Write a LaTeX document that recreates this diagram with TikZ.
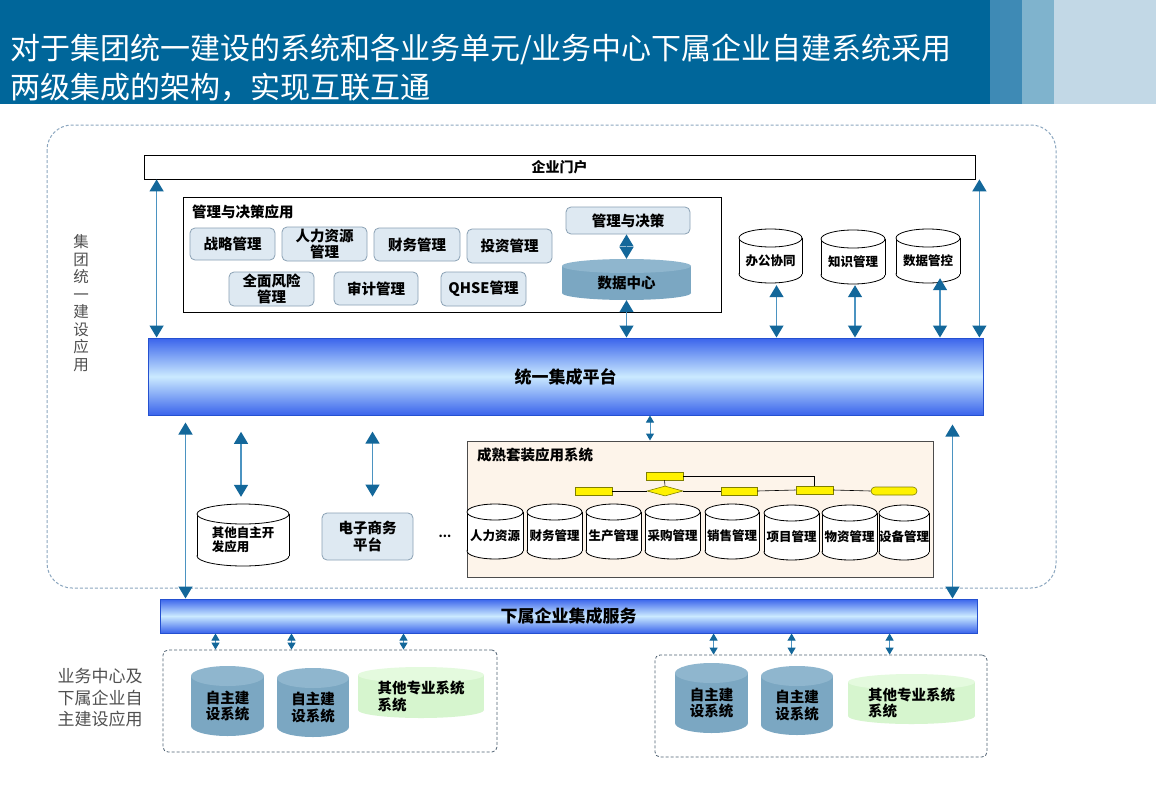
\documentclass[tikz,border=0pt]{standalone}
\usepackage{fontspec}
\setmainfont{Noto Sans CJK SC}
\usetikzlibrary{arrows.meta,shapes.geometric,calc}
\definecolor{hdr}{HTML}{00669A}
\definecolor{strip1}{HTML}{3E8AB5}
\definecolor{strip2}{HTML}{7FB3CD}
\definecolor{strip3}{HTML}{C2D8E6}
\definecolor{arrline}{HTML}{4B93C1}
\definecolor{arrhead}{HTML}{13679A}
\definecolor{boxfill}{HTML}{DEE9F2}
\definecolor{boxline}{HTML}{8AA1B4}
\definecolor{cylblue}{HTML}{7BA7C2}
\definecolor{cylbluetop}{HTML}{8FB6CE}
\definecolor{cylgreen}{HTML}{D6F5CE}
\definecolor{cylgreentop}{HTML}{E4FADE}
\definecolor{barblue}{HTML}{3A64EC}
\definecolor{barlight}{HTML}{CBEAFF}
\definecolor{barline}{HTML}{2450D0}
\definecolor{suitefill}{HTML}{FDF4EA}
\definecolor{outerdashc}{HTML}{8BA6BF}
\definecolor{innerdashc}{HTML}{4F6172}
\definecolor{graytext}{HTML}{505050}
\definecolor{flowline}{HTML}{7F7F00}
\newcommand\bxfont{\bfseries\fontsize{14.5}{16.5}\selectfont}
\newcommand\cyfont{\bfseries\fontsize{12.5}{14}\selectfont}
\tikzset{
  rbox/.style={fill=boxfill, draw=boxline, line width=0.8pt, rounded corners=5pt, align=center, font=\bxfont},
  plainbox/.style={draw=black, line width=0.8pt},
  barshade/.style={top color=barblue, bottom color=barblue, middle color=barlight, draw=barline, line width=1pt, font=\bfseries\fontsize{17}{19}\selectfont},
  outerdash/.style={draw=outerdashc, line width=1pt, dash pattern=on 3pt off 2pt, rounded corners=25pt},
  innerdash/.style={draw=innerdashc, line width=0.8pt, dash pattern=on 3pt off 2pt, rounded corners=5pt},
  dblarrow/.style={draw=arrline, line width=1.4pt, {Triangle[width=14pt,length=12pt,color=arrhead]}-{Triangle[width=14pt,length=12pt,color=arrhead]}},
  sdblarrow/.style={draw=arrline, line width=1pt, {Triangle[width=8pt,length=7pt,color=arrhead]}-{Triangle[width=8pt,length=7pt,color=arrhead]}},
  flowbox/.style={fill=yellow, draw=flowline, line width=0.6pt, inner sep=0pt},
  flowconn/.style={draw=black, line width=0.6pt},
  cyltext/.style={align=center, font=\cyfont, inner sep=0pt},
  cylbody-white/.style={fill=white, draw=black, line width=0.8pt},
  cylfill-white/.style={fill=white},
  cylline-white/.style={draw=black, line width=0.8pt},
  cyltop-white/.style={fill=white, draw=black, line width=0.8pt},
  cylbody-blue/.style={fill=cylblue},
  cylfill-blue/.style={fill=cylblue},
  cylline-blue/.style={draw=none},
  cyltop-blue/.style={fill=cylbluetop},
  cylbody-green/.style={fill=cylgreen},
  cylfill-green/.style={fill=cylgreen},
  cylline-green/.style={draw=none},
  cyltop-green/.style={fill=cylgreentop},
  graylabel/.style={text=graytext, align=left, inner sep=0pt},
}
% name, x1, y1, x2, y2, style
\newcommand\rectnode[7]{\node[#6, minimum width={(#4-#2)*1pt}, minimum height={(#5-#3)*1pt}] (#1) at ({(#2+#4)/2},{(#3+#5)/2}) {#7};}
% name, x1, y1, x2, y2, ry, kind, text options, text
\newcommand\mycyl[9]{%
  \pgfmathsetmacro\cylcx{(#2+#4)/2}%
  \pgfmathsetmacro\cylrx{(#4-#2)/2}%
  \pgfmathsetmacro\cylcy{(#3+#5)/2}%
  \pgfmathsetmacro\cylww{#4-#2}%
  \pgfmathsetmacro\cylhh{#5-#3}%
  \path[cylbody-#7] (\cylcx,#5-#6) ellipse [x radius=\cylrx, y radius=#6];
  \fill[cylfill-#7] (#2,#3+#6) rectangle (#4,#5-#6);
  \path[cylline-#7] (#2,#3+#6) -- (#2,#5-#6) (#4,#3+#6) -- (#4,#5-#6);
  \path[cyltop-#7] (\cylcx,#3+#6) ellipse [x radius=\cylrx, y radius=#6];
  \node[inner sep=0pt, minimum width=\cylww pt, minimum height=\cylhh pt] (#1) at (\cylcx,\cylcy) {};
  \node[cyltext,#8] (#1t) at ([yshift=-#6*0.5pt]#1.center) {#9};
}
\begin{document}
\begin{tikzpicture}[x=1pt,y=-1pt]
\useasboundingbox (0,0) rectangle (1156,800);
\fill[white] (0,0) rectangle (1156,800);
% header
\fill[hdr] (0,0) rectangle (990,104);
\fill[strip1] (990,0) rectangle (1022,104);
\fill[strip2] (1022,0) rectangle (1054,104);
\fill[strip3] (1054,0) rectangle (1156,104);
\node[anchor=west, text=white, inner sep=0pt, font=\fontsize{30}{34}\selectfont] (t1) at (10,49) {对于集团统一建设的系统和各业务单元/业务中心下属企业自建系统采用};
\node[anchor=west, text=white, inner sep=0pt, font=\fontsize{30}{34}\selectfont] (t2) at (10,87) {两级集成的架构，实现互联互通};

% outer group frame
\draw[outerdash] (47,125) rectangle (1056,588);
\node[graylabel, align=center, font=\fontsize{15.5}{17.5}\selectfont] (lbl1) at (81,303) {集\\团\\统\\一\\建\\设\\应\\用};

% portal
\rectnode{portal}{144}{155}{975}{179}{plainbox, fill=white, font=\bfseries\fontsize{14}{16}\selectfont}{企业门户}

% management frame
\rectnode{mgmt}{183}{197}{721}{312}{plainbox}{}
\node[anchor=west, inner sep=0pt, font=\bfseries\fontsize{14.5}{16}\selectfont] (mgmtt) at (192,212) {管理与决策应用};
\rectnode{zl}{190}{228}{275}{260}{rbox}{战略管理}
\rectnode{rl}{282}{227}{367}{261}{rbox, inner sep=0pt}{人力资源\\管理}
\rectnode{cw}{374}{228}{460}{261}{rbox}{财务管理}
\rectnode{tz}{467}{229}{552}{263}{rbox}{投资管理}
\rectnode{qm}{229}{272}{314}{306}{rbox, inner sep=0pt}{全面风险\\管理}
\rectnode{sj}{334}{272}{418}{305}{rbox}{审计管理}
\rectnode{qh}{441}{272}{526}{306}{rbox}{QHSE管理}
\rectnode{jc}{566}{207}{690}{234}{rbox}{管理与决策}
\mycyl{dc}{562}{259}{691}{300}{7}{blue}{font=\bxfont}{数据中心}

% right cylinders
\mycyl{bg}{739}{229}{802}{283}{9}{white}{}{办公协同}
\mycyl{zs}{821}{230}{885}{284}{9}{white}{}{知识管理}
\mycyl{sg}{896}{229}{960}{283}{9}{white}{}{数据管控}

% platform
\rectnode{plat}{148}{338}{983}{415}{barshade}{统一集成平台}

% arrows to platform
\coordinate (aL) at ([xshift=13pt]portal.south west);
\coordinate (aR) at ([xshift=4pt]portal.south east);
\draw[dblarrow] (aL) -- (aL |- plat.north);
\draw[dblarrow] (aR) -- (aR |- plat.north);
\draw[dblarrow] (dc.north |- jc.south) -- (dc.north);
\draw[dblarrow] (dc.south) -- (dc.south |- plat.north);
\coordinate (bgA) at ([xshift=6pt,yshift=-2pt]bg.south);
\coordinate (zsA) at ([xshift=2pt,yshift=-1pt]zs.south);
\coordinate (sgA) at ([xshift=12pt,yshift=5pt]sg.south);
\draw[dblarrow] (bgA) -- (bgA |- plat.north);
\draw[dblarrow] (zsA) -- (zsA |- plat.north);
\draw[dblarrow] (sgA) -- (sgA |- plat.north);

% lower group
\mycyl{qt}{197}{504}{289}{566}{10}{white}{align=left}{其他自主开\\发应用}
\rectnode{es}{322}{513}{413}{560}{rbox, inner sep=1pt}{电子商务\\平台}
\node[font=\bfseries\fontsize{12}{14}\selectfont, inner sep=0pt] (dots) at (445,536) {...};

\rectnode{suite}{467}{441}{933}{577}{fill=suitefill, draw=black!70, line width=1pt}{}
\node[anchor=west, inner sep=0pt, font=\bfseries\fontsize{14.5}{16}\selectfont] (suitet) at (477,455) {成熟套装应用系统};

% flow chart
\rectnode{fa}{575}{487}{612}{495}{flowbox}{}
\rectnode{fb}{646}{472}{683}{480}{flowbox}{}
\node[diamond, flowbox, minimum width=36pt, minimum height=10pt] (fd) at (665,491) {};
\rectnode{fc}{721}{487}{757}{495}{flowbox}{}
\rectnode{fe}{796}{486}{833}{494}{flowbox}{}
\rectnode{ft}{871}{487}{917}{495}{flowbox, rounded corners=4pt}{}
\draw[flowconn] (fa.east) -- (fd.west);
\draw[flowconn] (fd.east) -- (fc.west);
\draw[flowconn] (fc.east) -- (fe.west);
\draw[flowconn] (fe.east) -- (ft.west);
\draw[flowconn] (fb.south) -- (fd.north);
\draw[flowconn] (fb.east) -| (fe.north);

% suite cylinders
\mycyl{s1}{467}{504}{523}{559}{8}{white}{}{人力资源}
\mycyl{s2}{527}{504}{582}{559}{8}{white}{}{财务管理}
\mycyl{s3}{586}{504}{641}{559}{8}{white}{}{生产管理}
\mycyl{s4}{645}{504}{700}{559}{8}{white}{}{采购管理}
\mycyl{s5}{705}{504}{759}{559}{8}{white}{}{销售管理}
\mycyl{s6}{764}{505}{819}{560}{8}{white}{}{项目管理}
\mycyl{s7}{822}{505}{877}{560}{8}{white}{}{物资管理}
\mycyl{s8}{879}{505}{929}{560}{8}{white}{}{设备管理}

% sub-enterprise bar
\rectnode{sub}{160}{599}{977}{633}{barshade}{下属企业集成服务}

% arrows below platform
\coordinate (b1) at ([xshift=38pt,yshift=-7pt]plat.south west);
\draw[dblarrow] (b1) -- (b1 |- sub.north);
\coordinate (b2) at ([xshift=-2pt,yshift=7pt]qt.north);
\draw[dblarrow] (b2) -- ++(0,-65);
\coordinate (b3) at ([xshift=5pt,yshift=16pt]es.north);
\draw[dblarrow] (b3) -- ++(0,-65);
\coordinate (b4) at ([xshift=-50pt]suite.north);
\draw[sdblarrow] (b4) -- (b4 |- plat.south);
\coordinate (b5) at ([xshift=-25pt]sub.north east);
\draw[dblarrow] (b5) -- ++(0,-174);

% bottom groups
\rectnode{lbox}{163}{650}{497}{752}{innerdash}{}
\rectnode{rbox}{655}{655}{987}{757}{innerdash}{}
\node[graylabel, font=\fontsize{17}{21.5}\selectfont] (lbl2) at (100,698) {业务中心及\\下属企业自\\主建设应用};

\mycyl{l1}{191}{666}{264}{736}{10}{blue}{font=\bxfont}{自主建\\设系统}
\mycyl{l2}{277}{668}{349}{737}{10}{blue}{font=\bxfont}{自主建\\设系统}
\mycyl{lg}{358}{667}{484}{718}{8}{green}{font=\bxfont, align=left}{其他专业系统\\系统}
\mycyl{r1}{675}{663}{748}{733}{10}{blue}{font=\bxfont}{自主建\\设系统}
\mycyl{r2}{761}{666}{833}{735}{10}{blue}{font=\bxfont}{自主建\\设系统}
\mycyl{rg}{848}{674}{975}{724}{8}{green}{font=\bxfont, align=left}{其他专业系统\\系统}

\coordinate (c1) at ([xshift=56pt]sub.south west);
\coordinate (c2) at ([xshift=132pt]sub.south west);
\coordinate (c3) at ([xshift=244pt]sub.south west);
\draw[sdblarrow] (c1) -- (c1 |- lbox.north);
\draw[sdblarrow] (c2) -- (c2 |- lbox.north);
\draw[sdblarrow] (c3) -- (c3 |- lbox.north);
\coordinate (d1) at ([xshift=59pt]rbox.north west);
\coordinate (d2) at ([xshift=137pt]rbox.north west);
\coordinate (d3) at ([xshift=235pt]rbox.north west);
\draw[sdblarrow] (d1) -- (d1 |- sub.south);
\draw[sdblarrow] (d2) -- (d2 |- sub.south);
\draw[sdblarrow] (d3) -- (d3 |- sub.south);
\end{tikzpicture}
\end{document}
